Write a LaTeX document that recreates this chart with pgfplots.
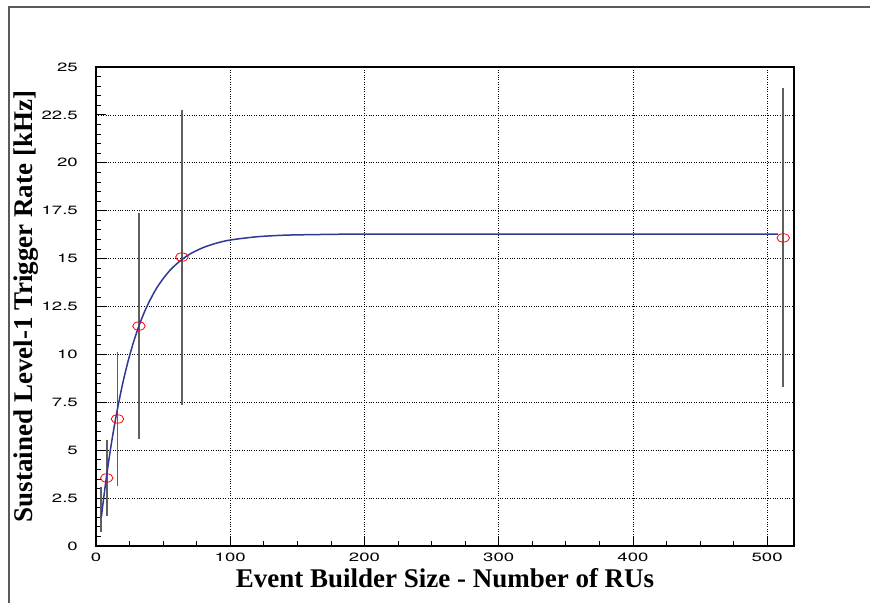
\documentclass[border=0pt]{standalone}
\usepackage{fontspec}
\setmainfont{Liberation Serif}
\newfontfamily\tickfont[FakeStretch=1.55]{TeX Gyre Heros}
\usepackage{pgfplots}
\pgfplotsset{compat=1.18}
\usepackage{pgfplotstable}
\definecolor{curveblue}{RGB}{48,56,150}
\definecolor{bargray}{RGB}{95,95,95}
\definecolor{framegray}{RGB}{90,90,90}

\pgfplotstableread{
x y ey
8 3.55 1.98
16 6.63 3.5
32 11.48 5.92
64 15.08 7.7
512 16.08 7.8
}\points

\pgfplotstableread{
x y ey
4 1.90 1.18
}\nomark

\pgfplotstableread{
x y
4 1.52
6 2.66
8 3.72
10 4.68
12 5.58
14 6.40
16 7.16
20 8.52
24 9.67
28 10.65
32 11.49
36 12.20
40 12.80
45 13.44
50 13.95
55 14.38
60 14.72
64 14.95
70 15.24
80 15.58
90 15.81
100 15.97
120 16.14
140 16.22
160 16.25
200 16.28
300 16.28
400 16.28
508 16.28
}\curve

\begin{document}
\begin{tikzpicture}
\path[use as bounding box] (0,0) rectangle (870bp,603bp);
\draw[framegray, line width=1.2bp] (9bp,0) -- (9bp,596bp) -- (870bp,596bp);
\begin{axis}[
  at={(96bp,57bp)}, anchor=south west,
  scale only axis, width=698bp, height=479bp,
  xmin=0, xmax=520, ymin=0, ymax=25,
  xtick={0,100,200,300,400,500}, minor x tick num=3,
  ytick={0,2.5,5,7.5,10,12.5,15,17.5,20,22.5,25}, minor y tick num=4,
  xtick pos=left, ytick pos=left, tick align=inside,
  major tick length=10bp, minor tick length=5bp,
  tick style={black, line width=0.8bp},
  axis line style={black, line width=1.3bp},
  grid=major,
  major grid style={black, dotted, line width=0.7bp},
  /pgf/number format/assume math mode=true,
  ticklabel style={font=\tickfont\fontsize{12bp}{14bp}\selectfont, inner sep=0pt},
  xticklabel style={anchor=north, yshift=-7bp},
  yticklabel style={anchor=east, xshift=-18bp},
  xlabel={Event Builder Size - Number of RUs},
  ylabel={Sustained Level-1 Trigger Rate [kHz]},
  label style={font=\bfseries\fontsize{27bp}{31bp}\selectfont, inner sep=0pt},
  xlabel style={at={(axis description cs:0.5,-0.0856)}, anchor=base},
  ylabel style={at={(axis description cs:-0.0903,0.5)}, anchor=base},
]
\addplot[draw=none, mark=none,
  error bars/.cd, y dir=both, y explicit, error mark=none,
  error bar style={bargray, line width=1.8bp}]
  table[x=x, y=y, y error=ey] {\nomark};
\addplot[only marks, mark=o, mark size=4.2bp,
  mark options={xscale=1.5, red, line width=0.8bp, solid},
  error bars/.cd, y dir=both, y explicit, error mark=none,
  error bar style={bargray, line width=1.8bp}]
  table[x=x, y=y, y error=ey] {\points};
\addplot[curveblue, line width=1.5bp, smooth, mark=none] table[x=x, y=y] {\curve};
\end{axis}
\end{tikzpicture}
\end{document}
